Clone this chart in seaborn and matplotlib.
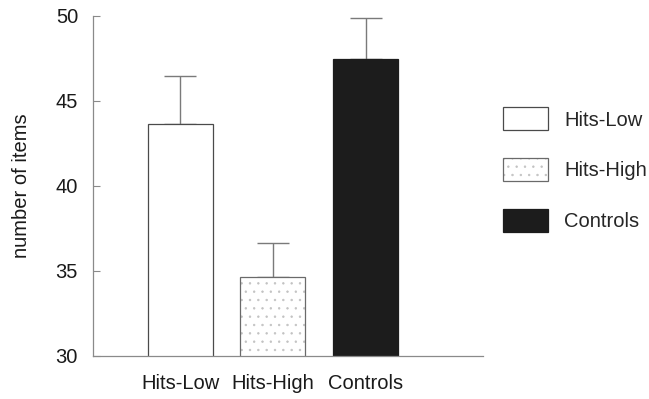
import numpy as np
import pandas as pd
import matplotlib
matplotlib.use("Agg")
import matplotlib.pyplot as plt
import matplotlib.colors as mcolors
import seaborn as sns

# ---- data ----
categories = ["Hits-Low", "Hits-High", "Controls"]
means = [43.6, 34.65, 47.45]
err_upper = [2.85, 1.98, 2.4]
y_ticks = [30, 35, 40, 45, 50]
y_label = "number of items"

fill_colors = ["#ffffff", "#ffffff", "#1c1c1c"]
edge_colors = ["#4a4a4a", "#6a6a6a", "#1c1c1c"]

sns.set_theme(style="white")
plt.rcParams["font.family"] = ["Liberation Sans", "DejaVu Sans"]
plt.rcParams["hatch.linewidth"] = 0.5

df = pd.DataFrame({"group": categories, "value": means})

fig = plt.figure(figsize=(6.49, 3.99), dpi=100)
ax = fig.add_axes([0.1438, 0.1085, 0.6004, 0.8522])

sns.barplot(data=df, x="group", y="value", hue="group", order=categories,
            hue_order=categories, palette=fill_colors, errorbar=None,
            width=0.70, legend=False, ax=ax, zorder=2)

for p, ec in zip(ax.patches, edge_colors):
    p.set_edgecolor(ec)
    p.set_linewidth(0.9)
# stipple texture on Hits-High
stip = ax.patches[1]
stip.set_hatch("..")
stip._hatch_color = mcolors.to_rgba("#c2c2c2")

xpos = np.arange(len(categories))
ax.errorbar(xpos, means, yerr=[np.zeros(len(means)), err_upper], fmt="none",
            ecolor="#7a7a7a", elinewidth=1.0, capsize=11.8, capthick=1.0,
            zorder=1)

ax.set_ylim(30, 50)
ax.set_xlim(-0.934, 3.263)
ax.set_yticks(y_ticks)
ax.set_yticklabels([str(t) for t in y_ticks])
ax.set_xlabel("")
ax.set_ylabel(y_label, fontsize=14.5, color="#1a1a1a", labelpad=18)

ax.tick_params(axis="y", direction="in", length=5, width=0.8, color="#8a8a8a",
               labelsize=14.5, labelcolor="#1a1a1a", pad=11, left=True)
ax.tick_params(axis="x", length=0, labelsize=14.5, labelcolor="#1a1a1a", pad=13)

sns.despine(ax=ax)
for side in ["left", "bottom"]:
    ax.spines[side].set_color("#8a8a8a")
    ax.spines[side].set_linewidth(0.9)

handles = list(ax.patches[:3])
leg = fig.legend(handles, categories, loc="upper left",
                 bbox_to_anchor=(503 / 649, 1 - 107.5 / 399),
                 frameon=False, fontsize=14.5, handlelength=2.25,
                 handleheight=1.35, handletextpad=0.8, labelspacing=1.4,
                 borderpad=0, borderaxespad=0)

fig.savefig("out.png", dpi=100)
